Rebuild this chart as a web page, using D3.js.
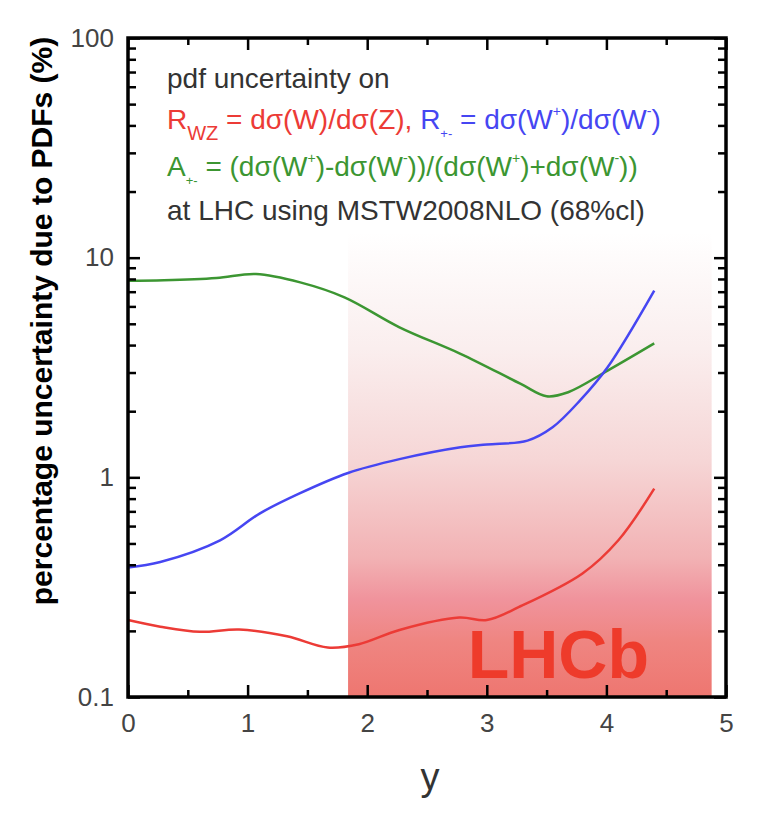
<!DOCTYPE html>
<html>
<head>
<meta charset="utf-8">
<script src="https://cdn.jsdelivr.net/npm/d3@7"></script>
<style>
  body { margin: 0; background: #fff; }
  svg { display: block; font-family: "Liberation Sans", Arial, sans-serif; }
  .tick text { fill: #444; font-size: 26px; font-family: "Liberation Sans", Arial, sans-serif; }
  .tick line { stroke: #000; stroke-width: 2.5; }
</style>
</head>
<body>
<svg id="chart" width="757" height="820"></svg>
<script>
// rapidity values and pdf uncertainties (%)
var greenY = [0, 0.3, 0.74, 1.07, 1.44, 1.81, 2.27, 2.78, 3.28, 3.5, 3.68, 4.01, 4.4],
    greenV = [7.86, 7.9, 8.09, 8.43, 7.72, 6.6, 4.82, 3.65, 2.67, 2.34, 2.44, 3.06, 4.07];

var blueY = [0, 0.27, 0.77, 1.1, 1.43, 1.84, 2.27, 2.78, 3.0, 3.34, 3.55, 3.78, 4.01, 4.4],
    blueV = [0.389, 0.412, 0.517, 0.684, 0.843, 1.047, 1.21, 1.37, 1.41, 1.47, 1.69, 2.24, 3.17, 7.08];

var redY = [0, 0.27, 0.6, 0.93, 1.33, 1.67, 1.93, 2.27, 2.77, 3.0, 3.27, 3.8, 4.1, 4.4],
    redV = [0.224, 0.209, 0.198, 0.203, 0.189, 0.168, 0.174, 0.202, 0.230, 0.224, 0.257, 0.365, 0.517, 0.888];

// LHCb acceptance band
var bandY = [1.84, 4.88],
    bandTop = 13;

var xMajor = [0, 1, 2, 3, 4, 5],
    xMinor = [0.5, 1.5, 2.5, 3.5, 4.5],
    yMajor = [0.1, 1, 10, 100],
    yMinor = [0.2, 0.3, 0.4, 0.5, 0.6, 0.7, 0.8, 0.9, 2, 3, 4, 5, 6, 7, 8, 9, 20, 30, 40, 50, 60, 70, 80, 90],
    yLabels = {0.1: "0.1", 1: "1", 10: "10", 100: "100"};

(function() {
    var svg = d3.select('#chart'),
        mLeft = 128, mRight = 726, mTop = 38, mBottom = 697;

    var x = d3.scaleLinear().domain([0, 5]).range([mLeft, mRight]),
        y = d3.scaleLog().domain([0.1, 100]).range([mBottom, mTop]);

    // gradient for the band
    var defs = svg.append('defs'),
        grad = defs.append('linearGradient')
            .attr('id', 'band-grad')
            .attr('x1', 0).attr('y1', 0).attr('x2', 0).attr('y2', 1);
    [[0, '#ffffff'], [0.25, '#faeeee'], [0.49, '#f6d6d6'], [0.7, '#f2b2b4'],
     [0.79, '#f0939c'], [0.88, '#ef8581'], [1, '#ee7670']].forEach(function(s) {
        grad.append('stop').attr('offset', s[0]).attr('stop-color', s[1]);
    });

    svg.append('rect')
        .attr('x', x(bandY[0]))
        .attr('y', y(bandTop))
        .attr('width', x(bandY[1]) - x(bandY[0]))
        .attr('height', y(0.1) - y(bandTop))
        .attr('fill', 'url(#band-grad)');

    svg.append('text')
        .attr('x', x(2.84))
        .attr('y', y(0.122))
        .attr('font-size', 68)
        .attr('font-weight', 'bold')
        .attr('fill', '#ee3b2b')
        .text('LHCb');

    // curves
    var line = d3.line()
        .x(function(d) { return x(d[0]); })
        .y(function(d) { return y(d[1]); })
        .curve(d3.curveCatmullRom.alpha(0.5));

    [[greenY, greenV, '#3c9632'], [blueY, blueV, '#4646f2'], [redY, redV, '#ec3b36']].forEach(function(s) {
        svg.append('path')
            .datum(d3.zip(s[0], s[1]))
            .attr('fill', 'none')
            .attr('stroke', s[2])
            .attr('stroke-width', 2.5)
            .attr('d', line);
    });

    // axes (ticks point inward)
    function clean(g) { g.select('.domain').remove(); }

    svg.append('g').attr('transform', 'translate(0,' + mBottom + ')')
        .call(d3.axisBottom(x).tickValues(xMajor).tickSize(-12).tickPadding(17).tickFormat(d3.format('d')))
        .call(clean);
    svg.append('g').attr('transform', 'translate(0,' + mBottom + ')')
        .call(d3.axisBottom(x).tickValues(xMinor).tickSize(-7).tickFormat(''))
        .call(clean);
    svg.append('g').attr('transform', 'translate(0,' + mTop + ')')
        .call(d3.axisTop(x).tickValues(xMajor).tickSize(-12).tickFormat(''))
        .call(clean);
    svg.append('g').attr('transform', 'translate(0,' + mTop + ')')
        .call(d3.axisTop(x).tickValues(xMinor).tickSize(-7).tickFormat(''))
        .call(clean);

    svg.append('g').attr('transform', 'translate(' + mLeft + ',0)')
        .call(d3.axisLeft(y).tickValues(yMajor).tickSize(-12).tickPadding(14).tickFormat(function(d) { return yLabels[d]; }))
        .call(clean);
    svg.append('g').attr('transform', 'translate(' + mLeft + ',0)')
        .call(d3.axisLeft(y).tickValues(yMinor).tickSize(-8).tickFormat(''))
        .call(clean);
    svg.append('g').attr('transform', 'translate(' + mRight + ',0)')
        .call(d3.axisRight(y).tickValues(yMajor).tickSize(-12).tickFormat(''))
        .call(clean);
    svg.append('g').attr('transform', 'translate(' + mRight + ',0)')
        .call(d3.axisRight(y).tickValues(yMinor).tickSize(-8).tickFormat(''))
        .call(clean);

    // frame
    svg.append('rect')
        .attr('x', mLeft).attr('y', mTop)
        .attr('width', mRight - mLeft).attr('height', mBottom - mTop)
        .attr('fill', 'none')
        .attr('stroke', '#000')
        .attr('stroke-width', 3.5);

    // axis titles
    svg.append('text')
        .attr('x', 430)
        .attr('y', 790)
        .attr('text-anchor', 'middle')
        .attr('font-size', 38)
        .attr('fill', '#333')
        .text('y');

    svg.append('text')
        .attr('transform', 'translate(52,321) rotate(-90)')
        .attr('text-anchor', 'middle')
        .attr('font-size', 30)
        .attr('font-weight', 'bold')
        .attr('fill', '#000')
        .text('percentage uncertainty due to PDFs (%)');

    // annotation pieces: [text, colour, shift]  0 normal, -1 / -2 subscript, 2 superscript
    var RED = '#ec3b36', BLUE = '#4646f2', GREEN = '#3c9632', GREY = '#333';
    var noteLines = [
        { y: 88,  parts: [['pdf uncertainty on', GREY, 0]] },
        { y: 129, parts: [['R', RED, 0], ['WZ', RED, -1], [' = d\u03c3(W)/d\u03c3(Z), ', RED, 0],
                          ['R', BLUE, 0], ['+-', BLUE, -2], [' = d\u03c3(W', BLUE, 0], ['+', BLUE, 2],
                          [')/d\u03c3(W', BLUE, 0], ['-', BLUE, 2], [')', BLUE, 0]] },
        { y: 176, parts: [['A', GREEN, 0], ['+-', GREEN, -2], [' = (d\u03c3(W', GREEN, 0], ['+', GREEN, 2],
                          [')-d\u03c3(W', GREEN, 0], ['-', GREEN, 2], ['))/(d\u03c3(W', GREEN, 0], ['+', GREEN, 2],
                          [')+d\u03c3(W', GREEN, 0], ['-', GREEN, 2], ['))', GREEN, 0]] },
        { y: 220, parts: [['at LHC using MSTW2008NLO (68%cl)', GREY, 0]] }
    ];

    var shiftDy = { '0': 0, '-1': 11, '-2': 9, '2': -13 },
        shiftSize = { '0': 28, '-1': 20, '-2': 13, '2': 14 };

    noteLines.forEach(function(l) {
        var t = svg.append('text').attr('x', 167).attr('y', l.y);
        var prev = 0;
        l.parts.forEach(function(p) {
            t.append('tspan')
                .attr('dy', shiftDy[p[2]] - shiftDy[prev])
                .attr('font-size', shiftSize[p[2]])
                .attr('fill', p[1])
                .style('white-space', 'pre')
                .text(p[0]);
            prev = p[2];
        });
    });
})();
</script>
</body>
</html>
